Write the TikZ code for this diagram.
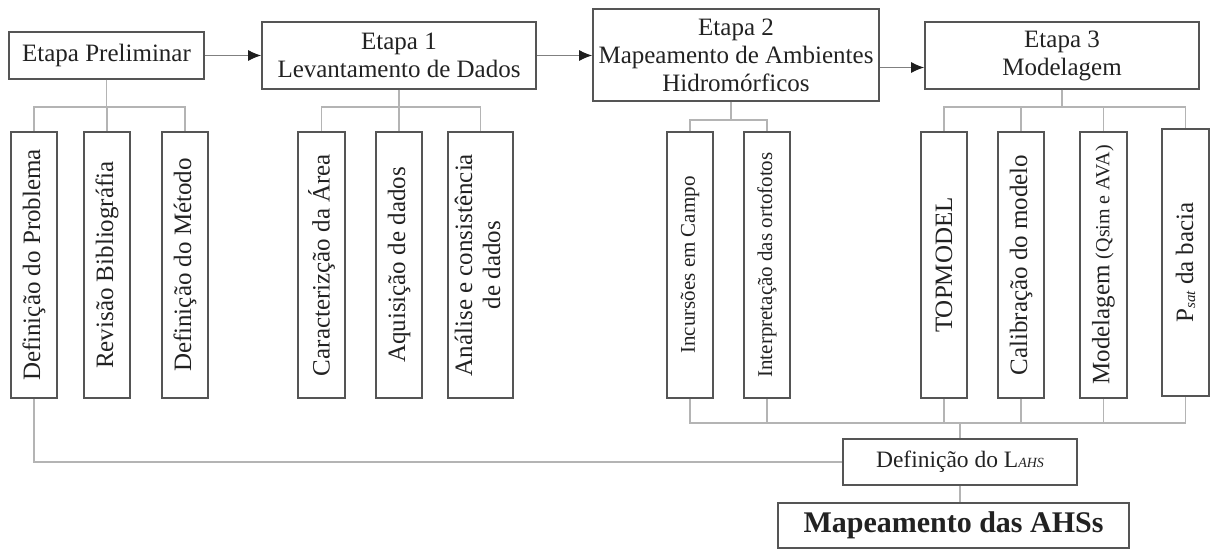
\documentclass[tikz,border=0pt]{standalone}
\usepackage{fontspec}
\setmainfont{Liberation Serif}
\usetikzlibrary{arrows.meta,calc}
\definecolor{boxcol}{HTML}{555555}
\definecolor{conncol}{HTML}{B4B4B4}
\definecolor{arrcol}{HTML}{808080}
\definecolor{tipcol}{HTML}{1E1E1E}
\definecolor{txtcol}{HTML}{222222}
\begin{document}
\begin{tikzpicture}[x=1pt,y=-1pt,
  box/.style={draw=boxcol, line width=1.6pt, inner sep=0pt, text=txtcol, align=center,
              font=\fontsize{25}{28}\selectfont},
  vbox/.style={box, minimum width=46pt, minimum height=266pt},
  conn/.style={draw=conncol, line width=1.3pt},
  arr/.style={draw=arrcol, line width=1.3pt, -{Latex[length=13pt,width=11pt,color=tipcol]}}]
\useasboundingbox (0,0) rectangle (1210,550);

% stage boxes
\node[box, minimum width=195pt, minimum height=47pt] (pre) at (106.5,55.5) {Etapa Preliminar};
\node[box, minimum width=274pt, minimum height=67pt] (e1) at (399,55.5) {Etapa 1\\Levantamento de Dados};
\node[box, minimum width=286pt, minimum height=92pt] (e2) at (736,55) {Etapa 2\\Mapeamento de Ambientes\\Hidromórficos};
\node[box, minimum width=274pt, minimum height=67pt] (e3) at (1062,55.5) {Etapa 3\\Modelagem};

% activities of each stage
\node[vbox] (p1) at (34,265) {\rotatebox{90}{Definição do Problema}};
\node[vbox] (p2) at (107,265) {\rotatebox{90}{Revisão Bibliográfia}};
\node[vbox] (p3) at (185,265) {\rotatebox{90}{Definição do Método}};

\node[vbox, minimum width=47pt] (e1a) at (321.5,265) {\rotatebox{90}{Caracterizção da Área}};
\node[vbox] (e1b) at (399,265) {\rotatebox{90}{Aquisição de dados}};
\node[vbox, minimum width=65pt] (e1c) at (480.5,265) {\rotatebox{90}{\begin{tabular}{@{}c@{}}Análise e consistência\\de dados\end{tabular}}};

\node[vbox, font=\fontsize{21}{24}\selectfont] (e2a) at (690,265) {\rotatebox{90}{Incursões em Campo}};
\node[vbox, font=\fontsize{21}{24}\selectfont] (e2b) at (767,265) {\rotatebox{90}{Interpretação das ortofotos}};

\node[vbox] (e3a) at (944,265) {\rotatebox{90}{TOPMODEL}};
\node[vbox] (e3b) at (1021,265) {\rotatebox{90}{Calibração do modelo}};
\node[vbox, minimum width=47pt] (e3c) at (1103.5,265) {\rotatebox{90}{Modelagem {\fontsize{20}{24}\selectfont(Qsim e AVA)}}};
\node[vbox, minimum width=47pt, minimum height=267pt] (e3d) at (1185.5,262.5) {\rotatebox{90}{P\raisebox{-2pt}{\fontsize{15}{16}\selectfont\itshape sat} da bacia}};

% results
\node[box, minimum width=234pt, minimum height=46pt, font=\fontsize{23.5}{28}\selectfont] (def) at (960,462)
  {Definição do L{\fontsize{14}{16}\selectfont\itshape AHS}};
\node[box, minimum width=351pt, minimum height=45pt, font=\fontsize{30}{32}\selectfont\bfseries] (map) at (953.5,525.5)
  {Mapeamento das AHSs};

% flow between stages
\draw[arr] (pre.east) -- (e1.west);
\draw[arr] (e1.east) -- (e1.east -| e2.west);
\draw[arr] ([yshift=-12.5pt]e2.east) -- ([yshift=-12.5pt]e2.east -| e3.west);

% branching lines
\coordinate (bar0) at (0,107);
\coordinate (bar1) at (0,107);
\coordinate (bar2) at (0,120);
\coordinate (bar3) at (0,107);
\coordinate (bar4) at (0,423);
\coordinate (e2j) at ([xshift=-5pt]e2.south);
\foreach \c in {p1,p2,p3} \draw[conn] (pre.south) |- (\c.north |- bar0) -- (\c.north);
\foreach \c in {e1a,e1b,e1c} \draw[conn] (e1.south) |- (\c.north |- bar1) -- (\c.north);
\foreach \c in {e2a,e2b} \draw[conn] (e2j) |- (\c.north |- bar2) -- (\c.north);
\foreach \c in {e3a,e3b,e3c,e3d} \draw[conn] (e3.south) |- (\c.north |- bar3) -- (\c.north);

% joining lines towards the result
\foreach \c in {e2a,e2b,e3a,e3b,e3c,e3d} \draw[conn] (\c.south) -- (\c.south |- bar4) -| (def.north);
\draw[conn] (p1.south) |- (def.west);
\draw[conn] (def.south) -- (def.south |- map.north);
\end{tikzpicture}
\end{document}
